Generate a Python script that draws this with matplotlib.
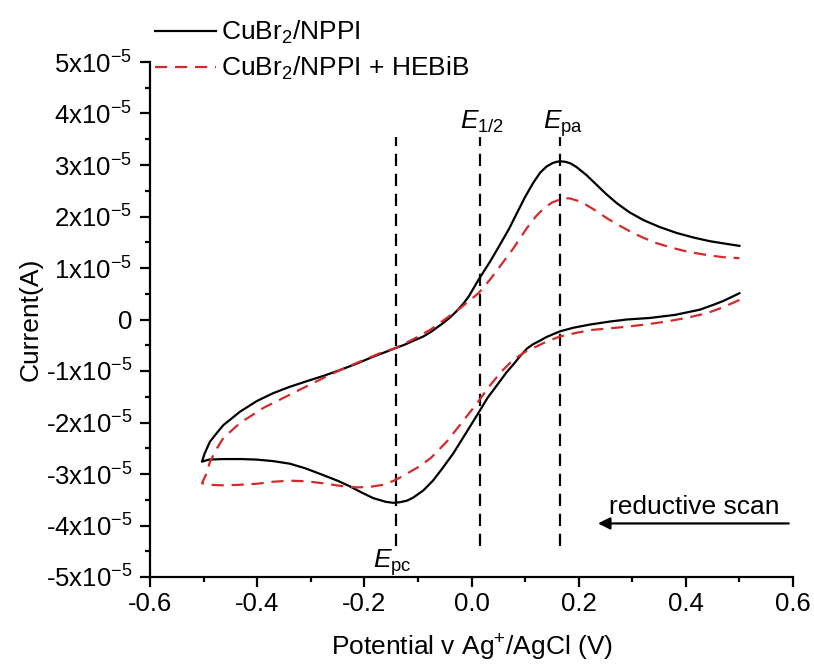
import numpy as np
import matplotlib
matplotlib.use("Agg")
import matplotlib.pyplot as plt
from matplotlib.ticker import MultipleLocator, FixedLocator

plt.rcParams['font.family'] = ['Liberation Sans', 'DejaVu Sans']
plt.rcParams['mathtext.fontset'] = 'custom'
plt.rcParams['mathtext.rm'] = 'Liberation Sans'
plt.rcParams['mathtext.it'] = 'Liberation Sans:italic'
plt.rcParams['mathtext.bf'] = 'Liberation Sans:bold'
plt.rcParams['mathtext.default'] = 'regular'

# ---- data (current in units of 1e-5 A) ----
# CuBr2/NPPI : reductive branch (0.5 -> -0.5) then oxidative branch (-0.5 -> 0.5)
blk_red_v = [0.5, 0.47, 0.45, 0.426, 0.38, 0.333, 0.29, 0.258, 0.22, 0.19, 0.165, 0.14, 0.128,
             0.115, 0.104, 0.09, 0.08, 0.065, 0.053, 0.03, 0.012, -0.01, -0.034, -0.055, -0.072, -0.09,
             -0.109, -0.121, -0.135, -0.146, -0.16, -0.183, -0.205, -0.227, -0.25,
             -0.277, -0.31, -0.339, -0.37, -0.401, -0.43, -0.463, -0.49, -0.503]
blk_red_i = [0.51, 0.36, 0.28, 0.19, 0.09, 0.03, 0.0, -0.04, -0.1, -0.16, -0.23, -0.34, -0.41,
             -0.48, -0.56, -0.72, -0.85, -1.03, -1.2, -1.52, -1.83, -2.2, -2.6, -2.9, -3.13, -3.32,
             -3.46, -3.52, -3.55, -3.56, -3.54, -3.47, -3.36, -3.24, -3.13,
             -3.02, -2.89, -2.8, -2.75, -2.72, -2.71, -2.71, -2.72, -2.76]
blk_ox_v = [-0.503, -0.498, -0.488, -0.475, -0.463, -0.432, -0.4, -0.37, -0.34, -0.308,
            -0.275, -0.245, -0.215, -0.183, -0.16, -0.143, -0.125, -0.11, -0.09, -0.077, -0.065,
            -0.053, -0.04, -0.028, -0.015, -0.005, 0.013, 0.035, 0.053, 0.07, 0.084, 0.1, 0.115,
            0.128, 0.14, 0.152, 0.16, 0.168, 0.176, 0.185, 0.196, 0.215, 0.234, 0.252, 0.271,
            0.295, 0.321, 0.35, 0.383, 0.415, 0.445, 0.475, 0.5]
blk_ox_i = [-2.76, -2.6, -2.37, -2.2, -2.05, -1.79, -1.58, -1.43, -1.31, -1.2,
            -1.09, -0.98, -0.86, -0.72, -0.63, -0.56, -0.49, -0.42, -0.33, -0.25, -0.16,
            -0.07, 0.04, 0.16, 0.31, 0.45, 0.77, 1.13, 1.45, 1.76, 2.05, 2.38, 2.65,
            2.85, 2.97, 3.04, 3.065, 3.07, 3.06, 3.03, 2.96, 2.8, 2.61, 2.43, 2.26,
            2.08, 1.93, 1.8, 1.68, 1.59, 1.52, 1.47, 1.43]

# CuBr2/NPPI + HEBiB
red_red_v = [0.5, 0.47, 0.439, 0.4, 0.364, 0.33, 0.29, 0.26, 0.227, 0.195, 0.165, 0.14,
             0.12, 0.1, 0.078, 0.055, 0.033, 0.01, -0.018, -0.046, -0.075, -0.095,
             -0.115, -0.13, -0.145, -0.165, -0.19, -0.214, -0.245, -0.277, -0.31,
             -0.339, -0.37, -0.401, -0.433, -0.463, -0.49, -0.503]
red_red_i = [0.38, 0.24, 0.12, 0.03, -0.04, -0.09, -0.14, -0.17, -0.2, -0.26, -0.33, -0.43,
             -0.53, -0.63, -0.78, -1.02, -1.3, -1.63, -2.0, -2.37, -2.68, -2.84,
             -2.96, -3.05, -3.13, -3.21, -3.25, -3.26, -3.23, -3.18, -3.14,
             -3.13, -3.15, -3.19, -3.21, -3.22, -3.21, -3.18]
red_ox_v = [-0.503, -0.495, -0.488, -0.475, -0.463, -0.432, -0.389, -0.339, -0.289, -0.245,
            -0.2, -0.165, -0.143, -0.11, -0.077, -0.05, -0.021, 0.013, 0.035, 0.053,
            0.078, 0.103, 0.12, 0.134, 0.15, 0.165, 0.175, 0.184, 0.2, 0.215, 0.234, 0.252,
            0.275, 0.296, 0.32, 0.346, 0.375, 0.402, 0.44, 0.47, 0.5]
red_ox_i = [-3.18, -3.0, -2.76, -2.5, -2.3, -2.01, -1.72, -1.46, -1.2, -0.98,
            -0.78, -0.63, -0.56, -0.39, -0.2, 0.0, 0.22, 0.51, 0.78, 1.03,
            1.38, 1.77, 2.0, 2.15, 2.27, 2.33, 2.355, 2.35, 2.3, 2.22, 2.1, 1.97,
            1.83, 1.71, 1.59, 1.48, 1.39, 1.32, 1.25, 1.21, 1.19]

marker_v = [-0.14, 0.015, 0.165]
marker_labels = [r'$\mathit{E}_{pc}$', r'$\mathit{E}_{1/2}$', r'$\mathit{E}_{pa}$']
marker_label_x = [-0.147, 0.02, 0.17]
marker_label_y = [-4.82, 3.71, 3.71]
marker_top = 3.55
marker_bottom = -4.4

x_ticks = [-0.6, -0.4, -0.2, 0.0, 0.2, 0.4, 0.6]
x_ticklabels = ['-0.6', '-0.4', '-0.2', '0.0', '0.2', '0.4', '0.6']
y_ticks = [-5, -4, -3, -2, -1, 0, 1, 2, 3, 4, 5]
y_ticklabels = [('0' if v == 0 else '%dx10$^{-5}$' % v) for v in y_ticks]

scale = 1e-5
RED = '#d42a2a'
FS = 19

fig = plt.figure(figsize=(8.14, 6.68), dpi=100)
ax = fig.add_axes([150/814, 1-577/668, (793-150)/814, (577-62)/668])

blk_v = blk_red_v + blk_ox_v
blk_i = np.array(blk_red_i + blk_ox_i) * scale
red_v = red_red_v + red_ox_v
red_i = np.array(red_red_i + red_ox_i) * scale

l1, = ax.plot(blk_v, blk_i, color='black', lw=1.6, solid_joinstyle='round',
              label='CuBr$_2$/NPPI', zorder=3)
l2, = ax.plot(red_v, red_i, color=RED, lw=1.6, linestyle=(0, (5.5, 3.5)),
              label='CuBr$_2$/NPPI + HEBiB', zorder=4)

for v in marker_v:
    ax.plot([v, v], [marker_bottom*scale, marker_top*scale], color='black', lw=1.6,
            linestyle=(0, (5.5, 3.5)), zorder=2)

for lx, ly, lab in zip(marker_label_x, marker_label_y, marker_labels):
    ax.text(lx, ly*scale, lab, ha='center', va='baseline', fontsize=FS)

ax.annotate('', xy=(0.236, -3.96*scale), xytext=(0.592, -3.96*scale),
            arrowprops=dict(arrowstyle='-|>', lw=1.6, color='black', mutation_scale=18,
                            shrinkA=0, shrinkB=0))
ax.text(0.415, -3.77*scale, 'reductive scan', ha='center', va='baseline', fontsize=FS)

ax.set_xlim(-0.6, 0.6)
ax.set_ylim(-5*scale, 5*scale)
ax.xaxis.set_major_locator(FixedLocator(x_ticks))
ax.set_xticklabels(x_ticklabels)
ax.xaxis.set_minor_locator(MultipleLocator(0.1))
ax.yaxis.set_major_locator(FixedLocator([v*scale for v in y_ticks]))
ax.set_yticklabels(y_ticklabels)
ax.yaxis.set_minor_locator(MultipleLocator(0.5*scale))

for s in ['top', 'right']:
    ax.spines[s].set_visible(False)
for s in ['left', 'bottom']:
    ax.spines[s].set_linewidth(1.6)
ax.tick_params(which='major', direction='out', length=7, width=1.6, labelsize=18.5, pad=4)
ax.tick_params(axis='y', which='major', pad=6)
ax.tick_params(which='minor', direction='out', length=3.6, width=1.6)

ax.set_xlabel('Potential v Ag$^{+}$/AgCl (V)', fontsize=FS, labelpad=12)
ax.set_ylabel('Current(A)', fontsize=FS, labelpad=2)

fig.legend(handles=[l1, l2], loc='upper left', bbox_to_anchor=(150/814, 1-14/668),
           frameon=False, fontsize=FS, handlelength=2.3, handletextpad=0.2,
           labelspacing=0.33, borderaxespad=0, borderpad=0.2)

fig.savefig('out.png', dpi=100)
